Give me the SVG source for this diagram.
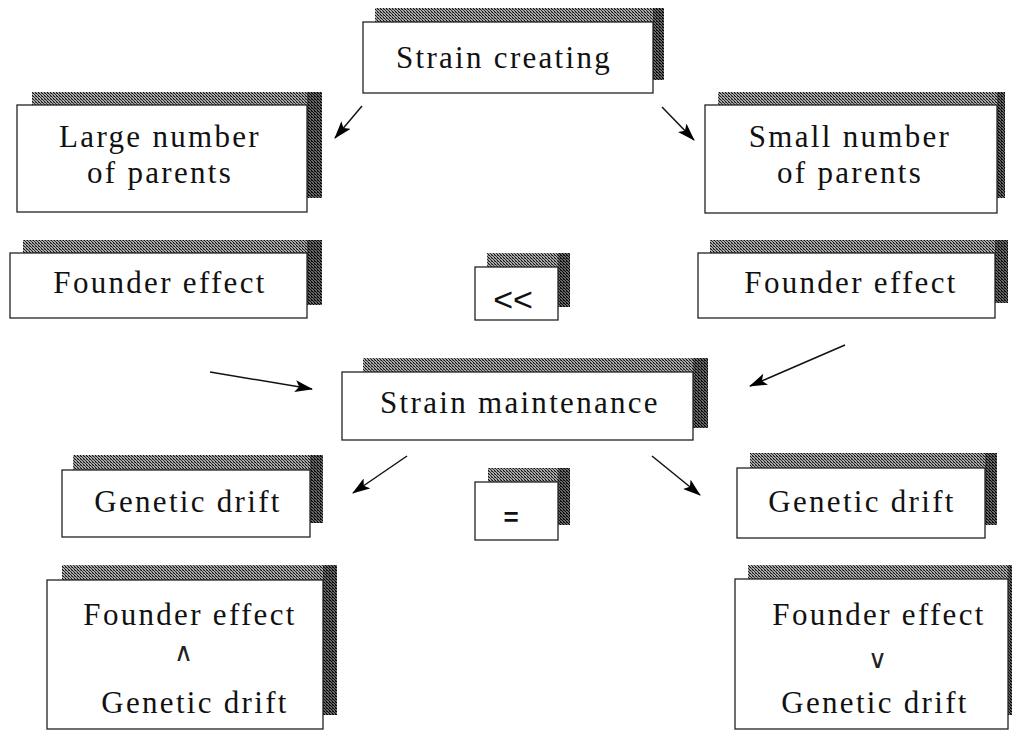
<svg xmlns="http://www.w3.org/2000/svg" width="1015" height="731" viewBox="0 0 1015 731">
<defs>
<pattern id="hatch" width="3" height="3" patternUnits="userSpaceOnUse">
<rect width="3" height="3" fill="#aaa"/>
<rect x="0" y="0" width="1" height="1" fill="#111"/>
<rect x="1" y="1" width="1" height="1" fill="#333"/>
<rect x="2" y="2" width="1" height="1" fill="#111"/>
<rect x="2" y="0" width="1" height="1" fill="#666"/>
</pattern>
<pattern id="hatchDark" width="3" height="3" patternUnits="userSpaceOnUse">
<rect width="3" height="3" fill="#666"/>
<rect x="0" y="0" width="1" height="1" fill="#000"/>
<rect x="1" y="1" width="1" height="1" fill="#111"/>
<rect x="2" y="2" width="1" height="1" fill="#000"/>
<rect x="2" y="0" width="1" height="1" fill="#222"/>
</pattern>
<marker id="arr" viewBox="0 0 18 12" refX="17" refY="6" markerWidth="18" markerHeight="12" markerUnits="userSpaceOnUse" orient="auto">
<path d="M0,0 L18,6 L0,12 L4,6 Z" fill="#000"/>
</marker>
</defs>
<style>
.sh{fill:url(#hatch)}
.shd{fill:url(#hatchDark)}
.bx{fill:#fff;stroke:#222;stroke-width:1.3}
.t{font-family:"Liberation Serif","Times New Roman",serif;font-size:31px;letter-spacing:2.3px;fill:#111;text-anchor:middle}
.s{font-family:"Liberation Sans",Arial,sans-serif;fill:#111;text-anchor:middle}
.op{font-family:"DejaVu Sans","Liberation Sans",sans-serif;font-size:26px;font-weight:200;fill:#222;text-anchor:middle}
.ln{stroke:#111;stroke-width:1.5;fill:none}
</style>
<rect width="1015" height="731" fill="#fff"/>

<g id="strain-creating">
<rect class="sh" x="375" y="8" width="289" height="72"/>
<rect class="shd" x="653" y="8" width="11" height="72"/>
<rect class="bx" x="363" y="22" width="290" height="71"/>
<text class="t" x="504" y="68">Strain creating</text>
</g>

<g id="large-number">
<rect class="sh" x="32" y="92" width="290" height="106"/>
<rect class="shd" x="307" y="92" width="15" height="106"/>
<rect class="bx" x="17" y="105" width="290" height="107"/>
<text class="t" x="160" y="147">Large number</text>
<text class="t" x="160" y="183">of parents</text>
</g>

<g id="small-number">
<rect class="sh" x="718" y="92" width="287" height="106"/>
<rect class="shd" x="997" y="92" width="8" height="106"/>
<rect class="bx" x="705" y="105" width="292" height="108"/>
<text class="t" x="850" y="147">Small number</text>
<text class="t" x="850" y="183">of parents</text>
</g>

<g id="founder-left">
<rect class="sh" x="23" y="240" width="299" height="65"/>
<rect class="shd" x="307" y="240" width="15" height="65"/>
<rect class="bx" x="10" y="253" width="297" height="65"/>
<text class="t" x="160" y="293">Founder effect</text>
</g>

<g id="less-less">
<rect class="sh" x="487" y="253" width="83" height="54"/>
<rect class="shd" x="558" y="253" width="12" height="54"/>
<rect class="bx" x="475" y="267" width="83" height="53"/>
<text class="s" x="513" y="311" font-size="34">&lt;&lt;</text>
</g>

<g id="founder-right">
<rect class="sh" x="710" y="240" width="298" height="63"/>
<rect class="shd" x="995" y="240" width="13" height="63"/>
<rect class="bx" x="698" y="253" width="297" height="65"/>
<text class="t" x="851" y="293">Founder effect</text>
</g>

<g id="strain-maintenance">
<rect class="sh" x="363" y="358" width="345" height="70"/>
<rect class="shd" x="693" y="358" width="15" height="70"/>
<rect class="bx" x="342" y="372" width="351" height="68"/>
<text class="t" x="520" y="413">Strain maintenance</text>
</g>

<g id="drift-left">
<rect class="sh" x="73" y="455" width="250" height="68"/>
<rect class="shd" x="310" y="455" width="13" height="68"/>
<rect class="bx" x="62" y="470" width="248" height="67"/>
<text class="t" x="188" y="512">Genetic drift</text>
</g>

<g id="equal">
<rect class="sh" x="488" y="468" width="82" height="57"/>
<rect class="shd" x="558" y="468" width="12" height="57"/>
<rect class="bx" x="475" y="482" width="83" height="58"/>
<text class="s" x="511" y="526" font-size="26" font-weight="bold">=</text>
</g>

<g id="drift-right">
<rect class="sh" x="750" y="453" width="247" height="72"/>
<rect class="shd" x="985" y="453" width="12" height="72"/>
<rect class="bx" x="737" y="468" width="248" height="70"/>
<text class="t" x="862" y="512">Genetic drift</text>
</g>

<g id="compare-left">
<rect class="sh" x="62" y="565" width="275" height="150"/>
<rect class="shd" x="323" y="565" width="14" height="150"/>
<rect class="bx" x="47" y="580" width="276" height="149"/>
<text class="t" x="190" y="625">Founder effect</text>
<text class="op" x="183" y="661">∧</text>
<text class="t" x="195" y="713">Genetic drift</text>
</g>

<g id="compare-right">
<rect class="sh" x="748" y="565" width="264" height="150"/>
<rect class="shd" x="1008" y="565" width="4" height="150"/>
<rect class="bx" x="735" y="579" width="273" height="150"/>
<text class="t" x="879" y="625">Founder effect</text>
<text class="op" x="877" y="668">∨</text>
<text class="t" x="875" y="713">Genetic drift</text>
</g>

<g id="connectors">
<line class="ln" x1="362" y1="106" x2="335" y2="138" marker-end="url(#arr)"/>
<line class="ln" x1="662" y1="107" x2="694" y2="140" marker-end="url(#arr)"/>
<line class="ln" x1="210" y1="372" x2="312" y2="389" marker-end="url(#arr)"/>
<line class="ln" x1="845" y1="345" x2="750" y2="386" marker-end="url(#arr)"/>
<line class="ln" x1="407" y1="456" x2="353" y2="493" marker-end="url(#arr)"/>
<line class="ln" x1="652" y1="456" x2="700" y2="495" marker-end="url(#arr)"/>
</g>
</svg>
